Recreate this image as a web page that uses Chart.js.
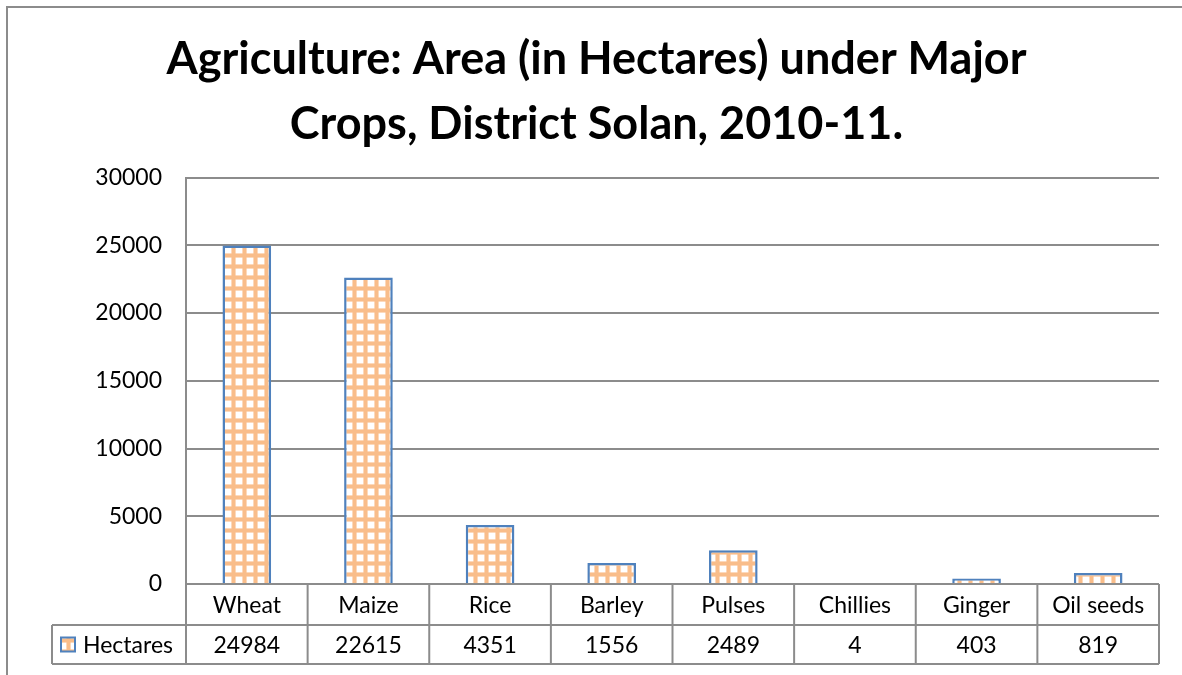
<!DOCTYPE html>
<html>
<head>
<meta charset="utf-8">
<script src="https://cdn.jsdelivr.net/npm/chart.js@4.4.1/dist/chart.umd.min.js"></script>
<style>
  html, body { margin: 0; padding: 0; background: #fff; }
  #wrap { width: 1182px; height: 675px; position: relative; }
</style>
</head>
<body>
<div id="wrap"><canvas id="cropChart"></canvas></div>
<script>
// Chart data
const titleLines = ['Agriculture: Area (in Hectares) under Major', 'Crops, District Solan, 2010-11.'];
const crops = ['Wheat', 'Maize', 'Rice', 'Barley', 'Pulses', 'Chillies', 'Ginger', 'Oil seeds'];
const hectares = [24984, 22615, 4351, 1556, 2489, 4, 403, 819];
const seriesName = 'Hectares';
const yTicks = [0, 5000, 10000, 15000, 20000, 25000, 30000];

const FONT = 'Lato, "Open Sans", sans-serif';
const lineGray = '#8c8c8c';

// orange grid fill like the Excel "small grid" pattern
function makeGridPattern() {
  const c = document.createElement('canvas');
  c.width = 11; c.height = 11;
  const g = c.getContext('2d');
  g.fillStyle = '#ffffff';
  g.fillRect(0, 0, 11, 11);
  g.fillStyle = 'rgba(250, 192, 144, 0.6)';
  g.fillRect(0, 0, 5, 11);
  g.fillRect(0, 0, 11, 5);
  g.fillStyle = '#f9bd8a';
  g.fillRect(1, 0, 3, 11);
  g.fillRect(0, 1, 11, 3);
  return g.createPattern(c, 'repeat');
}
const gridFill = makeGridPattern();

// outer frame + data table under the axis
const tablePlugin = {
  id: 'dataTable',
  beforeDraw(chart) {
    const ctx = chart.ctx;
    ctx.save();
    ctx.strokeStyle = '#8c8c8c';
    ctx.lineWidth = 2;
    ctx.strokeRect(7, 7, 1300, 800);
    ctx.restore();
  },
  afterDraw(chart) {
    const ctx = chart.ctx;
    const xs = chart.scales.x;
    const area = chart.chartArea;
    const top = area.bottom;
    const row1 = top + 41;
    const row2 = row1 + 39;
    const half = (xs.getPixelForValue(1) - xs.getPixelForValue(0)) / 2;
    const legendLeft = 52;

    ctx.save();
    ctx.strokeStyle = lineGray;
    ctx.lineWidth = 2;
    ctx.beginPath();
    ctx.moveTo(area.left, top); ctx.lineTo(area.right, top);
    ctx.moveTo(legendLeft, row1); ctx.lineTo(area.right, row1);
    ctx.moveTo(legendLeft, row2); ctx.lineTo(area.right, row2);
    ctx.moveTo(legendLeft, row1); ctx.lineTo(legendLeft, row2);
    ctx.moveTo(area.left, area.top); ctx.lineTo(area.left, row2);
    crops.forEach((c, i) => {
      const xr = xs.getPixelForValue(i) + half;
      ctx.moveTo(xr, top); ctx.lineTo(xr, row2);
    });
    ctx.stroke();

    ctx.fillStyle = '#000';
    ctx.font = '23px ' + FONT;
    ctx.textAlign = 'center';
    ctx.textBaseline = 'middle';
    hectares.forEach((v, i) => {
      ctx.fillText(String(v), xs.getPixelForValue(i), (row1 + row2) / 2 + 1);
    });

    // legend key
    const ky = (row1 + row2) / 2;
    ctx.fillStyle = gridFill;
    ctx.fillRect(61, ky - 7, 14, 14);
    ctx.strokeStyle = '#4f81bd';
    ctx.lineWidth = 2;
    ctx.strokeRect(61, ky - 7, 14, 14);
    ctx.fillStyle = '#000';
    ctx.textAlign = 'left';
    ctx.fillText(seriesName, 83, ky + 1);
    ctx.restore();
  }
};

const ctx = document.getElementById('cropChart').getContext('2d');
new Chart(ctx, {
  type: 'bar',
  data: {
    labels: crops,
    datasets: [{
      label: seriesName,
      data: hectares,
      backgroundColor: gridFill,
      borderColor: '#4f81bd',
      borderWidth: 2.5,
      barPercentage: 0.4,
      categoryPercentage: 1.0
    }]
  },
  options: {
    responsive: true,
    maintainAspectRatio: false,
    animation: false,
    layout: { padding: { left: 34, right: 23, top: 0, bottom: 50 } },
    plugins: {
      legend: { display: false },
      tooltip: { enabled: false },
      title: {
        display: true,
        text: titleLines,
        color: '#000',
        font: { family: FONT, size: 45, weight: 'bold', lineHeight: 1.45 },
        padding: { top: 27, bottom: 20 }
      }
    },
    scales: {
      x: {
        grid: { display: false, drawTicks: false },
        border: { display: false },
        ticks: { color: '#000', font: { family: FONT, size: 23 }, padding: 8 },
        afterFit(scale) { scale.height = 41; }
      },
      y: {
        min: 0,
        max: 30000,
        afterBuildTicks(scale) { scale.ticks = yTicks.map(v => ({ value: v })); },
        grid: { color: lineGray, lineWidth: 2, drawTicks: false },
        border: { display: true, color: lineGray, width: 2 },
        ticks: {
          color: '#000',
          font: { family: FONT, size: 23 },
          padding: 24,
          callback: v => String(v)
        },
        afterFit(scale) { scale.width = 152; }
      }
    }
  },
  plugins: [tablePlugin]
});
</script>
</body>
</html>
